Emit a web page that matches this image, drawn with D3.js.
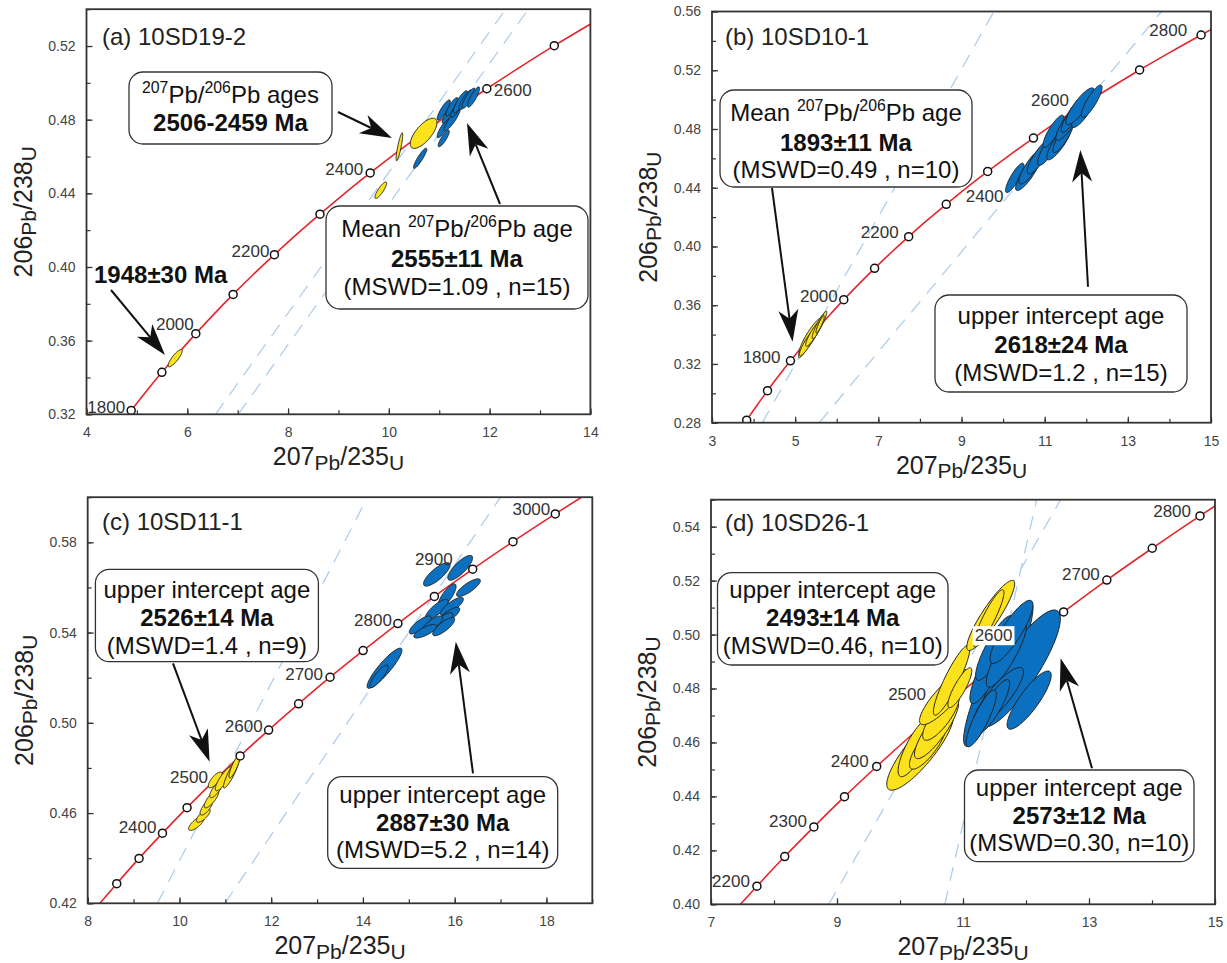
<!DOCTYPE html>
<html><head><meta charset="utf-8">
<script src="https://cdn.jsdelivr.net/npm/d3@7"></script>
<style>
body{margin:0;background:#fff}
svg text{font-family:"Liberation Sans",Arial,Helvetica,sans-serif}
</style>
</head><body>
<svg id="chart" width="1227" height="963"></svg>
<script>
// ---------------- DATA ----------------
// Concordia reference points: age (Ma), 207Pb/235U, 206Pb/238U
const concordiaAge = [1550,1600,1650,1700,1750,1800,1850,1900,1950,2000,2050,2100,2150,2200,2250,2300,2350,2400,2450,2500,2550,2600,2650,2700,2750,2800,2850,2900,2950,3000,3050];
const concordiaX = [3.602,3.834,4.078,4.335,4.604,4.887,5.184,5.496,5.824,6.169,6.530,6.910,7.310,7.729,8.170,8.633,9.119,9.630,10.166,10.730,11.322,11.944,12.597,13.283,14.004,14.762,15.557,16.393,17.271,18.193,19.162];
const concordiaY = [0.2718,0.2817,0.2917,0.3018,0.3119,0.3221,0.3324,0.3428,0.3532,0.3638,0.3744,0.3851,0.3959,0.4067,0.4177,0.4287,0.4399,0.4511,0.4624,0.4738,0.4853,0.4968,0.5084,0.5202,0.5320,0.5440,0.5560,0.5681,0.5803,0.5926,0.6050];

// visible age markers and labelled ages per sample
const aMarkerAges = [1800,1900,2000,2100,2200,2300,2400,2600,2700];
const bMarkerAges = [1600,1700,1800,2000,2100,2200,2300,2400,2500,2700,2800];
const cMarkerAges = [2300,2350,2400,2450,2550,2600,2650,2700,2750,2800,2850,2900,2950,3000];
const dMarkerAges = [2200,2250,2300,2350,2400,2650,2700,2750,2800];
const aLabelAges = [1800,2000,2200,2400,2600];
const bLabelAges = [1800,2000,2200,2400,2600,2800];
const cLabelAges = [2400,2500,2600,2700,2800,2900,3000];
const dLabelAges = [2200,2300,2400,2500,2600,2700,2800];

// error ellipses: [207Pb/235U, 206Pb/238U, half-range x, half-range y, rho]
const aYellow = [[5.76,0.3505,0.14,0.0047,0.85],[9.84,0.4417,0.116,0.0045,0.85],[10.21,0.4653,0.066,0.0076,0.85],[10.69,0.4726,0.265,0.0082,0.7]];
const aBlue = [[10.62,0.459,0.13,0.0055,0.9],[11.09,0.4698,0.11,0.0045,0.85],[11.08,0.4752,0.12,0.005,0.85],[11.25,0.4797,0.16,0.006,0.9],[11.09,0.4852,0.13,0.0055,0.85],[11.18,0.483,0.12,0.005,0.85],[11.25,0.487,0.12,0.005,0.85],[11.35,0.4863,0.12,0.005,0.85],[11.42,0.4897,0.14,0.006,0.85],[11.52,0.4907,0.13,0.0055,0.85],[11.58,0.4916,0.13,0.0055,0.85],[11.68,0.4923,0.12,0.0055,0.85]];
const bYellow = [[5.37,0.3388,0.28,0.0125,0.9],[5.20,0.3297,0.12,0.0055,0.85],[5.30,0.3345,0.2,0.009,0.9],[5.45,0.3410,0.2,0.009,0.9],[5.56,0.3456,0.15,0.0085,0.9],[5.64,0.3490,0.12,0.007,0.9],[5.60,0.3470,0.1,0.006,0.9]];
const bBlue = [[10.28,0.4467,0.22,0.010,0.85],[10.60,0.4501,0.3,0.012,0.85],[10.68,0.4546,0.3,0.012,0.85],[10.88,0.4614,0.3,0.012,0.85],[11.13,0.4682,0.3,0.013,0.85],[11.35,0.4710,0.3,0.012,0.85],[11.21,0.4784,0.25,0.011,0.85],[11.45,0.4750,0.25,0.011,0.85],[11.57,0.4842,0.3,0.012,0.85],[11.65,0.4887,0.25,0.011,0.85],[11.95,0.4930,0.3,0.012,0.85],[11.85,0.4955,0.34,0.0125,0.85],[12.13,0.4989,0.25,0.011,0.85]];
const cYellow = [[10.37,0.4554,0.17,0.0031,0.75],[10.52,0.4589,0.15,0.003,0.75],[10.59,0.4626,0.14,0.0035,0.75],[10.70,0.4663,0.16,0.004,0.8],[10.81,0.4708,0.15,0.004,0.8],[10.78,0.4747,0.15,0.0035,0.75],[10.98,0.4754,0.2,0.0055,0.85],[11.13,0.4776,0.17,0.0065,0.9],[11.20,0.4806,0.12,0.005,0.85]];
const cBlue = [[14.47,0.5242,0.38,0.0089,0.9],[14.35,0.5206,0.2,0.005,0.85],[15.61,0.5658,0.29,0.0052,0.8],[16.12,0.5687,0.27,0.0055,0.8],[16.30,0.5599,0.26,0.0039,0.8],[15.83,0.5561,0.2,0.0055,0.8],[15.61,0.5502,0.25,0.0045,0.8],[15.94,0.5516,0.25,0.004,0.8],[15.86,0.5472,0.25,0.004,0.8],[15.72,0.5448,0.24,0.004,0.8],[15.25,0.5434,0.24,0.004,0.8],[15.50,0.5434,0.24,0.004,0.8],[15.76,0.5426,0.24,0.004,0.8],[15.36,0.5406,0.25,0.003,0.75]];
const dYellow = [[10.32,0.4571,0.53,0.0148,0.85],[10.25,0.4583,0.28,0.011,0.8],[10.44,0.4588,0.29,0.0087,0.8],[10.58,0.4650,0.35,0.011,0.85],[10.65,0.4695,0.29,0.0087,0.8],[10.71,0.4768,0.4,0.0102,0.85],[10.82,0.4831,0.29,0.013,0.9],[10.95,0.4803,0.19,0.0074,0.85],[11.44,0.5071,0.38,0.013,0.9],[11.41,0.5060,0.24,0.0106,0.9]];
const dBlue = [[11.56,0.4855,0.55,0.027,0.9],[11.9,0.4874,0.645,0.0217,0.85],[11.43,0.488,0.32,0.0136,0.85],[11.5,0.495,0.3,0.012,0.85],[11.69,0.4929,0.32,0.0124,0.85],[11.77,0.501,0.34,0.0117,0.85],[11.56,0.4768,0.40,0.011,0.85],[11.48,0.4734,0.26,0.0099,0.85],[11.29,0.4689,0.24,0.0105,0.85],[12.05,0.4757,0.35,0.0108,0.85]];

// discordia error-envelope lines: [x1,y1,x2,y2]
const aDiscordia = [[6.56,0.32,12.32,0.54],[7.01,0.32,12.77,0.54]];
const bDiscordia = [[4.21,0.28,9.78,0.56],[5.58,0.28,13.81,0.56]];
const cDiscordia = [[9.52,0.42,14.1,0.60],[10.99,0.42,17.0,0.60]];
const dDiscordia = [[8.87,0.40,12.55,0.55],[10.71,0.40,12.17,0.55]];

// axis tick labels
const aXTicks = [4,6,8,10,12,14], aYTicks = [0.32,0.36,0.40,0.44,0.48,0.52];
const bXTicks = [3,5,7,9,11,13,15], bYTicks = [0.28,0.32,0.36,0.40,0.44,0.48,0.52,0.56];
const cXTicks = [8,10,12,14,16,18], cYTicks = [0.42,0.46,0.50,0.54,0.58];
const dXTicks = [7,9,11,13,15], dYTicks = [0.40,0.42,0.44,0.46,0.48,0.50,0.52,0.54];

// ---------------- LAYOUT ----------------
const SUP = 'sup';
const panels = [
  {id:'a', title:'(a) 10SD19-2', L:86.5, R:590.4, T:9.2, B:414.3, xd:[4,14], yd:[0.32,0.54], xStep:1, yStep:0.02,
   xt:aXTicks, yt:aYTicks, markers:aMarkerAges, labels:aLabelAges,
   labelOff:{1800:[-6,3],2000:[-2,-4],2200:[-5,2],2400:[-7,2],2600:[7,7,'start']},
   yellow:aYellow, blue:aBlue, blueFirst:false, disc:aDiscordia, titlePos:[102,45],
   boxes:[
     {x:129,y:72,w:203,h:72,lines:[{y:103,segs:[['207',SUP],['Pb/'],['206',SUP],['Pb ages']]},{y:131,bold:true,segs:[['2506-2459 Ma']]}]},
     {x:326,y:206,w:262,h:103,lines:[{y:237,segs:[['Mean '],['207',SUP],['Pb/'],['206',SUP],['Pb age']]},{y:267,bold:true,segs:[['2555±11 Ma']]},{y:295,segs:[['(MSWD=1.09 , n=15)']]}]}
   ],
   free:[{x:94,y:283,text:'1948±30 Ma'}],
   arrows:[[111,290,165,355],[338,112,392,138],[500,204,467,123]]},
  {id:'b', title:'(b) 10SD10-1', L:712, R:1211, T:11.5, B:422.7, xd:[3,15], yd:[0.28,0.56], xStep:1, yStep:0.02,
   xt:bXTicks, yt:bYTicks, markers:bMarkerAges, labels:bLabelAges,
   labelOff:{1800:[-10,2],2000:[-6,2],2200:[-10,1],2400:[-22,31,'start'],2600:[-15,2],2800:[-14,1]},
   yellow:bYellow, blue:bBlue, blueFirst:false, disc:bDiscordia, titlePos:[725,45],
   boxes:[
     {x:720,y:90,w:252,h:97,lines:[{y:121,segs:[['Mean '],['207',SUP],['Pb/'],['206',SUP],['Pb age']]},{y:151,bold:true,segs:[['1893±11 Ma']]},{y:178,segs:[['(MSWD=0.49 , n=10)']]}]},
     {x:935,y:295,w:252,h:97,lines:[{y:324,segs:[['upper intercept age']]},{y:353,bold:true,segs:[['2618±24 Ma']]},{y:381,segs:[['(MSWD=1.2 , n=15)']]}]}
   ],
   free:[], arrows:[[772,188,792.6,341.7],[1088,286.7,1080.3,150]]},
  {id:'c', title:'(c) 10SD11-1', L:87.7, R:592.3, T:497.2, B:903.3, xd:[8,19], yd:[0.42,0.60], xStep:1, yStep:0.02,
   xt:cXTicks, yt:cYTicks, markers:cMarkerAges, labels:cLabelAges,
   labelOff:{2400:[-6,0],2500:[-5,1],2600:[-6,2],2700:[-7,3],2800:[-6,2],2900:[-20,-4],3000:[-5,1]},
   yellow:cYellow, blue:cBlue, blueFirst:false, disc:cDiscordia, titlePos:[102,530],
   boxes:[
     {x:95.4,y:569.3,w:223,h:92.4,lines:[{y:598,segs:[['upper intercept age']]},{y:626,bold:true,segs:[['2526±14 Ma']]},{y:654,segs:[['(MSWD=1.4 , n=9)']]}]},
     {x:327.7,y:776.7,w:230,h:91.6,lines:[{y:803,segs:[['upper intercept age']]},{y:831,bold:true,segs:[['2887±30 Ma']]},{y:858,segs:[['(MSWD=5.2 , n=14)']]}]}
   ],
   free:[], arrows:[[173,663.3,209.6,761.7],[473,773.3,455.8,641.7]]},
  {id:'d', title:'(d) 10SD26-1', L:711, R:1215, T:499.7, B:904.3, xd:[7,15], yd:[0.40,0.55], xStep:1, yStep:0.01,
   xt:dXTicks, yt:dYTicks, markers:dMarkerAges, labels:dLabelAges,
   labelOff:{2200:[-7,1],2300:[-7,0],2400:[-8,1],2500:[-20,-5],2600:[-10,-2,'end',true],2700:[-7,0],2800:[-9,1]},
   yellow:dYellow, blue:dBlue, blueFirst:true, disc:dDiscordia, titlePos:[725,531],
   boxes:[
     {x:717.5,y:572.7,w:230.5,h:92.3,lines:[{y:598,segs:[['upper intercept age']]},{y:626,bold:true,segs:[['2493±14 Ma']]},{y:654,segs:[['(MSWD=0.46, n=10)']]}]},
     {x:964.5,y:770,w:229.5,h:91.7,lines:[{y:796,segs:[['upper intercept age']]},{y:824,bold:true,segs:[['2573±12 Ma']]},{y:851,segs:[['(MSWD=0.30, n=10)']]}]}
   ],
   free:[], arrows:[[1092,768.3,1060.6,658.3]]}
];

const YELLOW = '#fbe21d', BLUE = '#0b70bf', RED = '#e3262b', ENVELOPE = '#a9cbec';
const svg = d3.select('#chart');

function rich(textSel, segs, size){
  let shift = 0;
  segs.forEach(([t,type])=>{
    let target = 0, fs = size;
    if (type==='sup'){ target = -0.4*size; fs = 0.66*size; }
    if (type==='sub'){ target = 0.17*size; fs = 0.84*size; }
    textSel.append('tspan').attr('dy', target-shift).attr('font-size', fs).text(t);
    shift = target;
  });
}

function ellipsePath(xs, ys, e){
  const [cx,cy,dx,dy,r] = e, s = Math.sqrt(1-r*r), pts=[];
  for (let i=0;i<96;i++){ const t=2*Math.PI*i/96;
    pts.push([xs(cx+dx*Math.cos(t)), ys(cy+dy*(r*Math.cos(t)+s*Math.sin(t)))]); }
  return d3.line()(pts)+'Z';
}

function arrow(g, x1,y1,x2,y2){
  const ang = Math.atan2(y2-y1,x2-x1), L=32, W=10, N=0.72;
  g.append('line').attr('x1',x1).attr('y1',y1)
    .attr('x2',x2-Math.cos(ang)*L*N).attr('y2',y2-Math.sin(ang)*L*N)
    .attr('stroke','#111').attr('stroke-width',2);
  g.append('path').attr('d',`M0,0L${-L},${-W}L${-L*N},0L${-L},${W}Z`)
    .attr('transform',`translate(${x2},${y2}) rotate(${ang*180/Math.PI})`).attr('fill','#111');
}

function range(a,b,step){ const out=[]; const n=Math.round((b-a)/step); for(let i=0;i<=n;i++) out.push(+(a+i*step).toFixed(4)); return out; }

panels.forEach(p=>{
  const xs = d3.scaleLinear().domain(p.xd).range([p.L,p.R]);
  const ys = d3.scaleLinear().domain(p.yd).range([p.B,p.T]);
  const g = svg.append('g');
  const clipId = 'clip-'+p.id;
  svg.append('clipPath').attr('id',clipId).append('rect')
    .attr('x',p.L).attr('y',p.T).attr('width',p.R-p.L).attr('height',p.B-p.T);
  const plot = g.append('g').attr('clip-path',`url(#${clipId})`);

  // discordia envelope
  plot.selectAll('line.disc').data(p.disc).join('line').attr('class','disc')
    .attr('x1',d=>xs(d[0])).attr('y1',d=>ys(d[1])).attr('x2',d=>xs(d[2])).attr('y2',d=>ys(d[3]))
    .attr('stroke',ENVELOPE).attr('stroke-width',1.2).attr('stroke-dasharray','14,10');

  // concordia
  const idx = d3.range(concordiaAge.length);
  plot.append('path').attr('d', d3.line().x(i=>xs(concordiaX[i])).y(i=>ys(concordiaY[i])).curve(d3.curveCatmullRom)(idx))
    .attr('fill','none').attr('stroke',RED).attr('stroke-width',1.6);

  // ellipses
  const groups = p.blueFirst ? [[p.blue,BLUE],[p.yellow,YELLOW]] : [[p.yellow,YELLOW],[p.blue,BLUE]];
  groups.forEach(([arr,col])=>{
    plot.append('g').selectAll('path').data(arr).join('path')
      .attr('d',e=>ellipsePath(xs,ys,e)).attr('fill',col).attr('stroke','#222').attr('stroke-width',1);
  });

  // age markers
  plot.selectAll('circle.m').data(p.markers).join('circle').attr('class','m')
    .attr('cx',a=>xs(concordiaX[concordiaAge.indexOf(a)]))
    .attr('cy',a=>ys(concordiaY[concordiaAge.indexOf(a)]))
    .attr('r',4).attr('fill','#fff').attr('stroke','#111').attr('stroke-width',1.5);

  // age labels
  p.labels.forEach(a=>{
    const i = concordiaAge.indexOf(a), off = p.labelOff[a];
    const x = xs(concordiaX[i])+off[0], y = ys(concordiaY[i])+off[1];
    const t = g.append('text').attr('x',x).attr('y',y).attr('text-anchor',off[2]||'end')
      .attr('font-size',17).attr('fill','#333').text(a);
    if (off[3]){
      const bb = t.node().getBBox();
      g.insert('rect', () => t.node()).attr('x',bb.x-2).attr('y',bb.y).attr('width',bb.width+4).attr('height',bb.height).attr('fill','#fff');
    }
  });

  // axes (inward ticks)
  const xMinor = range(p.xd[0],p.xd[1],p.xStep), yMinor = range(p.yd[0],p.yd[1],p.yStep);
  const axG = g.append('g').attr('color','#333');
  axG.append('g').attr('transform',`translate(0,${p.B})`)
    .call(d3.axisBottom(xs).tickValues(xMinor).tickSize(-4).tickFormat(''));
  axG.append('g').attr('transform',`translate(0,${p.B})`)
    .call(d3.axisBottom(xs).tickValues(p.xt).tickSize(-6).tickPadding(13).tickFormat(d3.format('d')));
  axG.append('g').attr('transform',`translate(${p.L},0)`)
    .call(d3.axisLeft(ys).tickValues(yMinor).tickSize(-4).tickFormat(''));
  axG.append('g').attr('transform',`translate(${p.L},0)`)
    .call(d3.axisLeft(ys).tickValues(p.yt).tickSize(-6).tickPadding(11).tickFormat(d3.format('.2f')));
  axG.selectAll('.domain').remove();
  axG.selectAll('.tick line').attr('stroke','#333').attr('stroke-width',1.2);
  axG.selectAll('.tick text').attr('font-size',14).attr('fill','#444')
    .attr('font-family','"Liberation Sans",Arial,sans-serif');

  // frame
  g.append('rect').attr('x',p.L).attr('y',p.T).attr('width',p.R-p.L).attr('height',p.B-p.T)
    .attr('fill','none').attr('stroke','#333').attr('stroke-width',1.8);

  // axis titles
  const xt = g.append('text').attr('x',(p.L+p.R)/2).attr('y',p.B+51).attr('text-anchor','middle').attr('fill','#222');
  rich(xt, [['207'],['Pb','sub'],['/235'],['U','sub']], 25);
  const yt = g.append('text').attr('transform',`translate(${p.L-55},${(p.T+p.B)/2}) rotate(-90)`).attr('text-anchor','middle').attr('fill','#222');
  rich(yt, [['206'],['Pb','sub'],['/238'],['U','sub']], 25);

  // panel title
  g.append('text').attr('x',p.titlePos[0]).attr('y',p.titlePos[1]).attr('font-size',24).attr('fill','#222').text(p.title);

  // boxes
  p.boxes.forEach(b=>{
    g.append('rect').attr('x',b.x).attr('y',b.y).attr('width',b.w).attr('height',b.h).attr('rx',14)
      .attr('fill','#fff').attr('stroke','#333').attr('stroke-width',1.3);
    b.lines.forEach(l=>{
      const t = g.append('text').attr('x',b.x+b.w/2).attr('y',l.y).attr('text-anchor','middle')
        .attr('fill','#111').attr('font-weight',l.bold?'bold':'normal');
      rich(t, l.segs, 24);
    });
  });
  p.free.forEach(f=>{
    g.append('text').attr('x',f.x).attr('y',f.y).attr('font-size',24).attr('font-weight','bold').attr('fill','#111').text(f.text);
  });
  p.arrows.forEach(a=>arrow(g,...a));
});
</script>
</body></html>
